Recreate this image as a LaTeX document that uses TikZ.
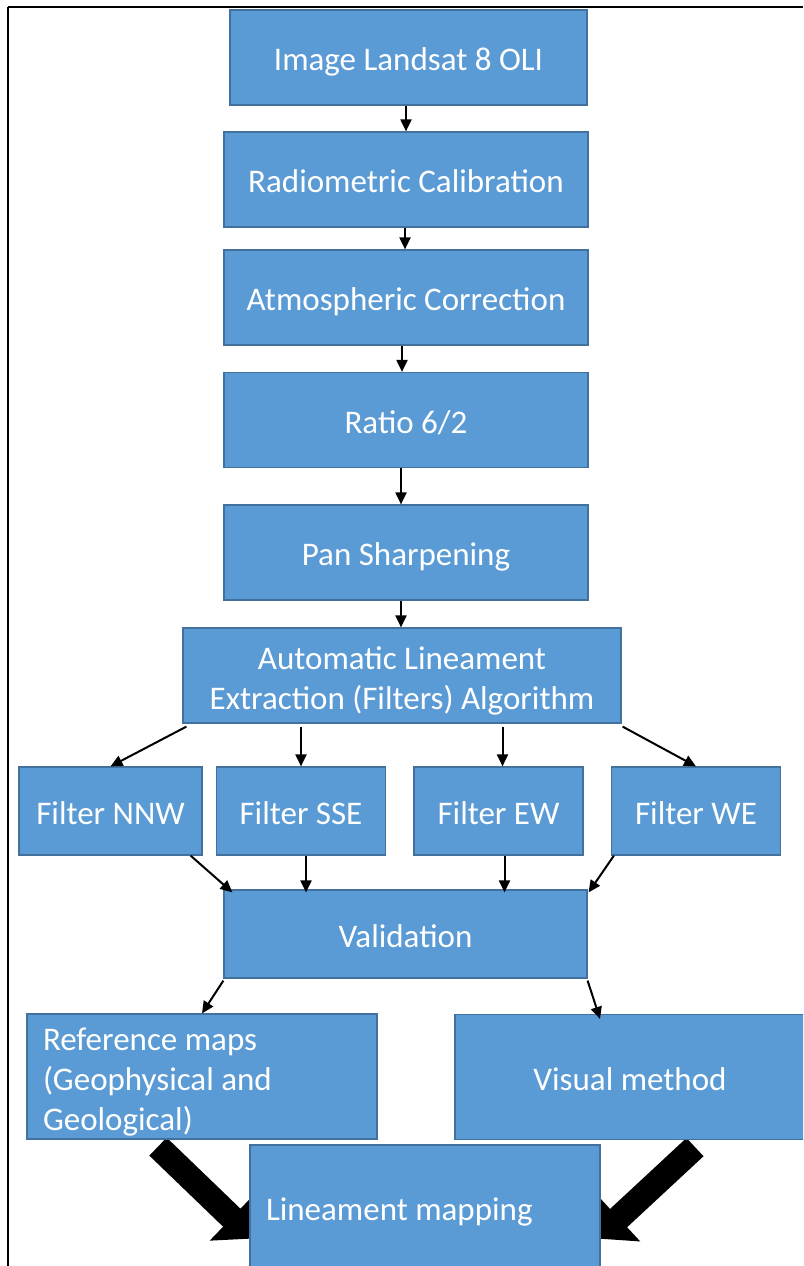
\documentclass[tikz,border=0pt]{standalone}
\usepackage{fontspec}
\setmainfont{Carlito}
\usetikzlibrary{shapes, arrows.meta, positioning, backgrounds}
\definecolor{boxblue}{HTML}{5B9BD5}
\definecolor{boxline}{HTML}{41719C}
\newcommand{\lift}{\rule{0pt}{33pt}}
\tikzstyle{box}    = [draw=boxline, line width=1.2pt, fill=boxblue, text=white,
                      font=\fontsize{33}{40}\selectfont, align=center, inner sep=0pt,
                      minimum width=364pt, minimum height=95pt]
\tikzstyle{one}    = [text height=30pt, text depth=3.6pt]
\tikzstyle{filt}   = [box, one, minimum width=169pt, minimum height=88pt]
\tikzstyle{wide}   = [box, minimum width=350pt, minimum height=125pt]
\tikzstyle{arr}    = [line width=2pt, -{Triangle[length=12pt,width=11pt]}]
\tikzstyle{bigarr} = [line width=25pt, -{Triangle[length=30pt,width=62pt]}]

\begin{document}
\begin{tikzpicture}[x=1pt, y=-1pt]
\useasboundingbox (0,0) rectangle (803,1266);
\clip (0,0) rectangle (803,1266);

% frame
\draw [line width=2.6pt] (8,7) -- (803,7);
\draw [line width=1.4pt] (8,7) -- (8,1266);

% main column
\node [box, one, minimum width=357pt              ]  (b1) at (408.5,57.5) {Image Landsat 8 OLI};
\node [box, one, below of=b1, node distance=122pt, xshift=-2.5pt] (b2) {Radiometric Calibration};
\node [box, one, below of=b2, node distance=118pt  ]  (b3) {Atmospheric Correction};
\node [box, one, below of=b3, node distance=122.5pt]  (b4) {Ratio 6/2};
\node [box, one, below of=b4, node distance=132.5pt]  (b5) {Pan Sharpening};
\node [box, below of=b5, node distance=123pt, xshift=-4pt, minimum width=438pt] (b6)
      {\lift Automatic Lineament\\Extraction (Filters) Algorithm};

% filters
\path (b6) ++(-291.5,135.5) node [filt, minimum width=183pt] (nnw) {Filter NNW};
\node [filt, right of=nnw, node distance=190.5pt  ]  (sse) {Filter SSE};
\node [filt, right of=sse, node distance=197.5pt  ]  (ew)  {Filter EW};
\node [filt, right of=ew,  node distance=197.5pt  ]  (we)  {Filter WE};

\path (b6) ++(3.5,258.5) node [box, one, minimum width=363pt, minimum height=88pt] (val) {Validation};

% results
\path (val) ++(-203.5,142.5) node [wide, text width=318pt, align=flush left] (ref)
      {\lift Reference maps\\(Geophysical and\\Geological)};
\path (val) ++(224.5,143)    node [wide, one] (vis) {Visual method};
\path (val) ++(19.5,273.5)   node [wide, one, text width=318pt, align=flush left] (lm)
      {Lineament mapping};

% column arrows
\draw [arr] ([xshift=-2.5]b1.south) -- (b2.north);
\draw [arr] ([xshift=-1]b2.south) -- ([xshift=-1]b2.south |- b3.north);
\draw [arr] ([xshift=-4]b3.south) -- ([xshift=-4]b3.south |- b4.north);
\draw [arr] ([xshift=-5]b4.south) -- ([xshift=-5]b4.south |- b5.north);
\draw [arr] ([xshift=-5]b5.south) -- ([xshift=-5]b5.south |- b6.north);

% to the filters
\draw [arr] ([xshift=4,yshift=-3]b6.south west) -- (nnw.north);
\draw [arr] ([yshift=-3]b6.south -| sse.north) -- (sse.north);
\draw [arr] ([xshift=4,yshift=-3]b6.south -| ew.north) -- ([xshift=4]ew.north);
\draw [arr] ([xshift=1,yshift=-3]b6.south east) -- (we.north);

% to validation
\draw [arr] ([xshift=-12]nnw.south east) -- ([xshift=9,yshift=-3]val.north west);
\draw [arr] ([xshift=5]sse.south) -- ([xshift=5,yshift=-3]sse.south |- val.north);
\draw [arr] ([xshift=6]ew.south) -- ([xshift=6,yshift=-3]ew.south |- val.north);
\draw [arr] ([xshift=3]we.south west) -- ([xshift=1,yshift=-3]val.north east);

% results
\draw [arr] ([yshift=-2]val.south west) -- (ref.north);
\draw [arr] ([yshift=-2]val.south east) -- ([xshift=-30,yshift=-5]vis.north);

\begin{pgfonlayer}{background}
\draw [bigarr] ([xshift=-44,yshift=-7]ref.south) -- ([xshift=4,yshift=-31]lm.west);
\draw [bigarr] ([xshift=65,yshift=-7]vis.south)  -- ([xshift=-4,yshift=-31]lm.east);
\end{pgfonlayer}

\end{tikzpicture}
\end{document}
